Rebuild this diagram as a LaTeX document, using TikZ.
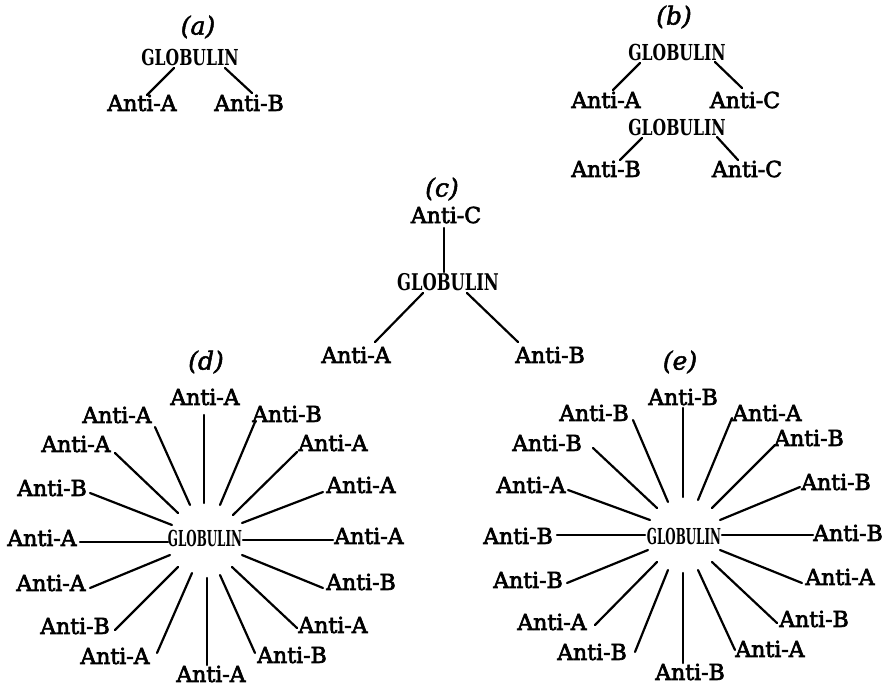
\documentclass[tikz,border=0pt]{standalone}
\usepackage{fontspec}
\newfontfamily\lblfam[FakeBold=3]{DejaVu Serif}
\newfontfamily\globfam[FakeStretch=0.71]{DejaVu Serif}
\newfontfamily\globsmall[FakeStretch=0.54]{DejaVu Serif}
\newfontfamily\tagfam[FakeBold=2]{DejaVu Serif}
\tikzset{
  lbl/.style={font={\lblfam\fontsize{22}{22}\selectfont}, inner sep=0pt},
  glob/.style={font={\globfam\bfseries\fontsize{22}{22}\selectfont}, inner sep=0pt},
  globc/.style={font={\globfam\bfseries\fontsize{23}{23}\selectfont}, inner sep=0pt},
  globs/.style={font={\globsmall\bfseries\fontsize{22}{22}\selectfont}, inner sep=0pt},
  tag/.style={font={\tagfam\itshape\fontsize{25}{25}\selectfont}, inner sep=0pt},
  spoke/.style={line width=2.2pt, line cap=round},
}
\begin{document}
\begin{tikzpicture}[x=1pt,y=-1pt]
\useasboundingbox (0,0) rectangle (887,686);
% (a)
\node[tag] (ta) at (198,27) {(a)};
\node[glob] (ga) at (190,57) {GLOBULIN};
\node[lbl] (a1) at (142,103) {Anti-A};
\node[lbl] (a2) at (249,103) {Anti-B};
\coordinate (a1i) at (174,68); \coordinate (a1o) at (147,95);
\coordinate (a2i) at (225,68); \coordinate (a2o) at (252,93);
\draw[spoke] (a1i) -- (a1o);
\draw[spoke] (a2i) -- (a2o);
% (b)
\node[tag] (tb) at (674,17) {(b)};
\node[glob] (gb1) at (677,52) {GLOBULIN};
\node[lbl] (b1) at (606,100) {Anti-A};
\node[lbl] (b2) at (745,100) {Anti-C};
\node[glob] (gb2) at (677,127) {GLOBULIN};
\node[lbl] (b3) at (606,169) {Anti-B};
\node[lbl] (b4) at (747,169) {Anti-C};
\coordinate (b1i) at (640,63); \coordinate (b1o) at (613,90);
\coordinate (b2i) at (715,62); \coordinate (b2o) at (742,88);
\coordinate (b3i) at (642,138); \coordinate (b3o) at (620,160);
\coordinate (b4i) at (717,137); \coordinate (b4o) at (738,160);
\foreach \n in {b1,b2,b3,b4} \draw[spoke] (\n i) -- (\n o);
% (c)
\node[tag] (tc) at (442,189) {(c)};
\node[lbl] (c0) at (446,215) {Anti-C};
\node[globc] (gc) at (448,282) {GLOBULIN};
\node[lbl] (c1) at (356,355) {Anti-A};
\node[lbl] (c2) at (550,355) {Anti-B};
\coordinate (c0i) at (444,272); \coordinate (c0o) at (444,228);
\coordinate (c1i) at (423,293); \coordinate (c1o) at (375,342);
\coordinate (c2i) at (467,293); \coordinate (c2o) at (518,342);
\foreach \n in {c0,c1,c2} \draw[spoke] (\n i) -- (\n o);
% (d)
\node[tag] (td) at (206,362) {(d)};
\node[globs] (gd) at (205,538) {GLOBULIN};
\foreach \n/\t/\lx/\ly/\ix/\iy/\ox/\oy in {
  d1/A/205/397/204/503/204/415,
  d2/A/117/415/190/505/155/427,
  d3/A/76/444/178/513/115/453,
  d4/B/52/488/172/525/90/493,
  d5/A/42/538/168/542/80/542,
  d6/A/51/583/170/555/90/588,
  d7/B/75/626/178/567/115/630,
  d8/A/115/656/192/573/157/653,
  d9/A/211/674/207/578/207/665,
  d10/B/292/655/220/575/255/653,
  d11/A/333/625/232/567/297/628,
  d12/B/361/582/242/555/323/588,
  d13/A/369/536/243/540/333/540,
  d14/A/361/485/242/523/323/492,
  d15/A/333/443/233/515/297/452,
  d16/B/287/414/220/505/255/422}{
  \node[lbl] (\n) at (\lx,\ly) {Anti-\t};
  \coordinate (\n i) at (\ix,\iy);
  \coordinate (\n o) at (\ox,\oy);
  \draw[spoke] (\n i) -- (\n o);
}
% (e)
\node[tag] (te) at (680,362) {(e)};
\node[globs] (ge) at (684,536) {GLOBULIN};
\foreach \n/\t/\lx/\ly/\ix/\iy/\ox/\oy in {
  e1/B/683/397/683/497/683/408,
  e2/B/594/413/668/502/633/420,
  e3/B/547/443/657/508/593/448,
  e4/A/531/485/650/520/568/490,
  e5/B/518/536/645/535/557/535,
  e6/B/528/580/648/550/567/583,
  e7/A/552/622/657/562/595/625,
  e8/B/592/652/668/570/635/652,
  e9/B/690/672/683/573/683/663,
  e10/A/770/649/698/570/735/650,
  e11/B/814/619/712/562/777/623,
  e12/A/840/577/720/550/802/583,
  e13/B/848/533/722/535/813/535,
  e14/B/836/482/720/520/800/487,
  e15/B/809/438/712/508/775/445,
  e16/A/767/413/698/500/732/418}{
  \node[lbl] (\n) at (\lx,\ly) {Anti-\t};
  \coordinate (\n i) at (\ix,\iy);
  \coordinate (\n o) at (\ox,\oy);
  \draw[spoke] (\n i) -- (\n o);
}
\end{tikzpicture}
\end{document}
